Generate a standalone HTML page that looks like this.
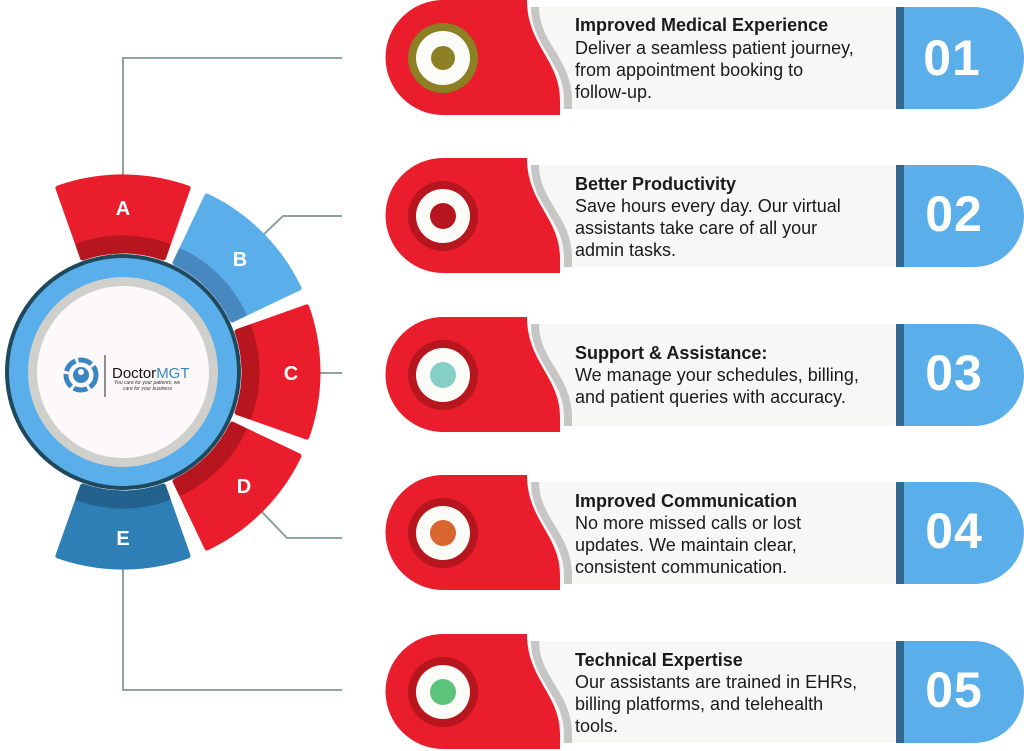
<!DOCTYPE html>
<html><head><meta charset="utf-8"><style>
html,body{margin:0;padding:0;background:#fff;}
svg{display:block;}
.t{font-family:"Liberation Sans",sans-serif;font-size:18px;fill:#1a1a1a;}
.b{font-weight:bold;}
.n{font-family:"Liberation Sans",sans-serif;font-weight:bold;font-size:50px;fill:#fff;letter-spacing:1px;}
.seg{font-family:"Liberation Sans",sans-serif;font-weight:bold;font-size:20px;fill:#fff;}
</style></head><body>
<svg width="1024" height="751" viewBox="0 0 1024 751" xmlns="http://www.w3.org/2000/svg">
<g stroke="#8fa3a3" stroke-width="2" fill="none">
<polyline points="123,185 123,58 342,58"/>
<polyline points="262,236 283,216 342,216"/>
<polyline points="315,373 342,373"/>
<polyline points="262,512 287,538 342,538"/>
<polyline points="123,560 123,690 342,690"/>
</g>
<g stroke-linejoin="round" stroke-width="5">
<path d="M57.9,188.1 A195,195 0 0 1 188.1,188.1 L163.4,257.9 A121,121 0 0 0 82.6,257.9 Z" fill="#ea1d2c" stroke="#ea1d2c"/>
<path d="M78.2,245.6 A134,134 0 0 1 167.8,245.6 L163.4,257.9 A121,121 0 0 0 82.6,257.9 Z" fill="#b8161f" stroke="#b8161f"/>
<path d="M206.9,196.0 A195,195 0 0 1 299.0,288.1 L232.2,319.9 A121,121 0 0 0 175.1,262.8 Z" fill="#5aaeea" stroke="#5aaeea"/>
<path d="M180.7,251.1 A134,134 0 0 1 243.9,314.3 L232.2,319.9 A121,121 0 0 0 175.1,262.8 Z" fill="#4688bf" stroke="#4688bf"/>
<path d="M306.8,306.9 A195,195 0 0 1 306.8,437.1 L237.1,412.4 A121,121 0 0 0 237.1,331.6 Z" fill="#ea1d2c" stroke="#ea1d2c"/>
<path d="M249.3,327.3 A134,134 0 0 1 249.3,416.7 L237.1,412.4 A121,121 0 0 0 237.1,331.6 Z" fill="#b8161f" stroke="#b8161f"/>
<path d="M299.0,455.9 A195,195 0 0 1 206.9,548.0 L175.1,481.2 A121,121 0 0 0 232.2,424.1 Z" fill="#ea1d2c" stroke="#ea1d2c"/>
<path d="M243.9,429.7 A134,134 0 0 1 180.7,492.9 L175.1,481.2 A121,121 0 0 0 232.2,424.1 Z" fill="#b8161f" stroke="#b8161f"/>
<path d="M188.1,555.9 A195,195 0 0 1 57.9,555.9 L82.6,486.1 A121,121 0 0 0 163.4,486.1 Z" fill="#2e7fb5" stroke="#2e7fb5"/>
<path d="M167.8,498.4 A134,134 0 0 1 78.2,498.4 L82.6,486.1 A121,121 0 0 0 163.4,486.1 Z" fill="#23628f" stroke="#23628f"/>
</g>
<text class="seg" x="123" y="215" text-anchor="middle">A</text>
<text class="seg" x="240" y="266" text-anchor="middle">B</text>
<text class="seg" x="291" y="380" text-anchor="middle">C</text>
<text class="seg" x="244" y="493" text-anchor="middle">D</text>
<text class="seg" x="123" y="545" text-anchor="middle">E</text>
<!-- hub -->
<circle cx="123" cy="372" r="116" fill="#5aaeea" stroke="#1f4a5e" stroke-width="4"/>
<circle cx="123" cy="372" r="95" fill="#cfcfcb"/>
<circle cx="123" cy="372" r="86" fill="#fdf8fa"/>
<circle cx="81" cy="375" r="15" fill="none" stroke="#3a86c0" stroke-width="5" stroke-dasharray="14 3"/>
<circle cx="81" cy="375" r="8" fill="#3a86c0"/>
<circle cx="81" cy="372" r="3" fill="#fff"/>
<line x1="105" y1="355" x2="105" y2="397" stroke="#222" stroke-width="1"/>
<text x="112" y="378" font-family="Liberation Sans,sans-serif" font-size="15" fill="#111">Doctor<tspan fill="#3a86c0">MGT</tspan></text>
<text x="114" y="384" font-family="Liberation Sans,sans-serif" font-size="5" font-style="italic" fill="#333">You care for your patients; we</text>
<text x="123" y="390" font-family="Liberation Sans,sans-serif" font-size="5" font-style="italic" fill="#333">care for your business</text>
<defs>
<g id="card">
<rect x="530" y="7" width="370" height="102" fill="#f7f8f5"/>
<path d="M535,7 C535,45 568,60 568,100 L568,109" fill="none" stroke="#c6c6c6" stroke-width="8"/>
<path d="M443,0 L527,0 C527,45 560,60 560,100 L560,115 L443,115 A57.5,57.5 0 0 1 443,0 Z" fill="#ea1d2c"/>
<path d="M896,7 L974,7 A50,51 0 0 1 974,109 L896,109 Z" fill="#5aaeea"/>
<rect x="896" y="7" width="8" height="102" fill="#33688f"/>
<circle cx="443" cy="58" r="35" fill="#b8161f"/>
<circle cx="443" cy="58" r="27" fill="#fbfbf7"/>
</g>
</defs>
<g>
<use href="#card"/>
<circle cx="443" cy="58" r="35" fill="#8d7f24"/><circle cx="443" cy="58" r="27" fill="#fbfbf7"/><circle cx="443" cy="58" r="12" fill="#8d7f24"/>
<text class="n" x="952" y="75" text-anchor="middle">01</text>
<text class="t b" x="575" y="31">Improved Medical Experience</text>
<text class="t" x="575" y="54">Deliver a seamless patient journey,</text>
<text class="t" x="575" y="76">from appointment booking to</text>
<text class="t" x="575" y="98">follow-up.</text>
</g>
<g transform="translate(0,158)">
<use href="#card"/>
<circle cx="443" cy="58" r="13" fill="#b8161f"/>
<text class="n" x="954" y="73" text-anchor="middle">02</text>
<text class="t b" x="575" y="32">Better Productivity</text>
<text class="t" x="575" y="54">Save hours every day. Our virtual</text>
<text class="t" x="575" y="76">assistants take care of all your</text>
<text class="t" x="575" y="98">admin tasks.</text>
</g>
<g transform="translate(0,317)">
<use href="#card"/>
<circle cx="443" cy="58" r="13" fill="#86cfc5"/>
<text class="n" x="954" y="73" text-anchor="middle">03</text>
<text class="t b" x="575" y="42">Support &amp; Assistance:</text>
<text class="t" x="575" y="64">We manage your schedules, billing,</text>
<text class="t" x="575" y="86">and patient queries with accuracy.</text>
</g>
<g transform="translate(0,475)">
<use href="#card"/>
<circle cx="443" cy="58" r="13" fill="#d9662f"/>
<text class="n" x="954" y="73" text-anchor="middle">04</text>
<text class="t b" x="575" y="32">Improved Communication</text>
<text class="t" x="575" y="54">No more missed calls or lost</text>
<text class="t" x="575" y="76">updates. We maintain clear,</text>
<text class="t" x="575" y="98">consistent communication.</text>
</g>
<g transform="translate(0,634)">
<use href="#card"/>
<circle cx="443" cy="58" r="13" fill="#5bc47a"/>
<text class="n" x="954" y="73" text-anchor="middle">05</text>
<text class="t b" x="575" y="32">Technical Expertise</text>
<text class="t" x="575" y="54">Our assistants are trained in EHRs,</text>
<text class="t" x="575" y="76">billing platforms, and telehealth</text>
<text class="t" x="575" y="98">tools.</text>
</g>
</svg>
</body></html>
